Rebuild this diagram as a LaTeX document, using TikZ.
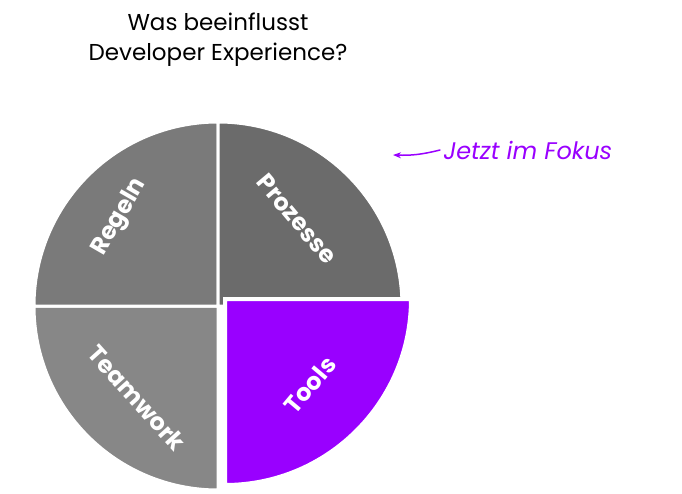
\documentclass[tikz,border=0pt]{standalone}
\usepackage{fontspec}
\setmainfont{Poppins}
\usetikzlibrary{arrows.meta}
\definecolor{purp}{RGB}{153,0,255}
\definecolor{g1}{RGB}{135,135,135}
\definecolor{g2}{RGB}{122,122,122}
\definecolor{g3}{RGB}{107,107,107}
\begin{document}
\begin{tikzpicture}[x=1pt,y=-1pt,
  quad/.style={draw=white,line width=3pt},
  lab/.style={text=white,font=\fontsize{24}{26}\selectfont\bfseries},
  ttl/.style={font=\fontsize{23}{30}\selectfont,align=center}]
\useasboundingbox (0,0) rectangle (682,494);
\coordinate (c) at (218,306);
\coordinate (p) at (225,299);
\filldraw[quad,fill=g1] (c) -- ++(-184,0) arc[start angle=180,end angle=90,radius=184] -- cycle;
\filldraw[quad,fill=g2] (c) -- ++(-184,0) arc[start angle=180,end angle=270,radius=184] -- cycle;
\filldraw[quad,fill=g3] (c) -- ++(184,0) arc[start angle=0,end angle=-90,radius=184] -- cycle;
\filldraw[draw=white,line width=4pt,fill=purp] (p) -- ++(186,0) arc[start angle=0,end angle=90,radius=186] -- cycle;
\node[ttl] (t) at (218,40) {Was beeinflusst\\Developer Experience?};
\node[lab,rotate=60] (r) at (120,217) {Regeln};
\node[lab,rotate=-50] (pz) at (297,219) {Prozesse};
\node[lab,rotate=-48] (tw) at (137,398) {Teamwork};
\node[lab,rotate=50] (to) at (310,385) {Tools};
\node[text=purp,font=\fontsize{24}{26}\selectfont\itshape,anchor=west] (f) at (440,150) {Jetzt im Fokus};
\coordinate (ae) at (393,155);
\draw[purp,line width=1.5pt,-{Stealth[length=8pt]},line cap=round] (f.west) to[bend left=8] (ae);
\end{tikzpicture}
\end{document}
